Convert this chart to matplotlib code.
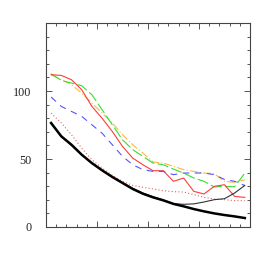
import matplotlib
matplotlib.use("Agg")
import matplotlib.pyplot as plt
from matplotlib.ticker import MultipleLocator, NullFormatter, FuncFormatter
import numpy as np

x = [0.5 + i for i in range(20)]

black_thick = [76.5, 66.7, 60.5, 53.2, 47.0, 41.7, 36.8, 32.4, 28.0, 24.5,
               21.8, 19.6, 17.0, 15.2, 13.2, 11.5, 10.0, 8.8, 7.8, 6.6]
black_thin = [76.0, 66.5, 60.0, 53.0, 47.0, 41.5, 36.8, 32.6, 28.5, 25.0,
              22.3, 20.0, 17.2, 16.7, 17.0, 18.4, 20.1, 20.8, 25.0, 30.6]
red_dotted = [83.8, 76.5, 67.9, 58.0, 49.5, 43.4, 38.0, 33.6, 30.6, 29.2,
              28.0, 26.7, 26.0, 25.7, 23.8, 21.8, 20.6, 20.1, 19.4, 19.4]
blue_dashed = [95.6, 88.7, 85.0, 81.4, 75.2, 69.0, 60.5, 52.0, 45.8, 42.2,
               40.9, 40.9, 38.5, 39.7, 39.7, 39.7, 38.5, 35.0, 33.6, 30.5]
red_solid = [112.0, 111.5, 108.3, 101.0, 88.7, 80.0, 70.3, 59.3, 50.7, 45.8,
             41.4, 41.4, 33.6, 36.0, 26.2, 24.3, 29.9, 31.1, 22.5, 21.8]
green_dashed = [112.7, 107.8, 105.9, 103.9, 97.3, 86.3, 75.2, 64.2, 56.9, 52.0,
                47.0, 45.8, 42.6, 39.7, 36.0, 33.6, 29.5, 29.9, 29.6, 39.7]
orange_dashdot = [112.0, 108.3, 104.7, 98.5, 91.2, 83.8, 76.5, 67.9, 60.5, 54.4,
                  47.8, 47.0, 44.6, 42.2, 40.9, 39.7, 39.2, 33.6, 32.8, 34.8]
y_labels = {0: "0", 50: "50", 100: "100"}

fig = plt.figure(figsize=(2.73, 2.73), dpi=100)
ax = fig.add_axes([0.1685, 0.1685, 0.747, 0.747])

lw = 0.8
ax.plot(x, orange_dashdot, color="#ffb640", lw=lw, dashes=(7, 2, 1, 2))
ax.plot(x, green_dashed, color="#33e033", lw=lw, dashes=(10, 3))
ax.plot(x, red_solid, color="#ff3b3b", lw=lw)
ax.plot(x, blue_dashed, color="#5555ff", lw=lw, dashes=(6, 5))
ax.plot(x, red_dotted, color="#dd6666", lw=lw, dashes=(1, 2))
ax.plot(x, black_thin, color="#333333", lw=0.8)
ax.plot(x, black_thick, color="black", lw=1.8)

ax.set_xlim(0, 20)
ax.set_ylim(0, 150)
ax.xaxis.set_major_locator(MultipleLocator(5))
ax.xaxis.set_minor_locator(MultipleLocator(1))
ax.yaxis.set_major_locator(MultipleLocator(50))
ax.yaxis.set_minor_locator(MultipleLocator(10))
ax.xaxis.set_major_formatter(NullFormatter())
ax.yaxis.set_major_formatter(FuncFormatter(lambda v, p: y_labels.get(int(round(v)), "")))
ax.tick_params(which="both", direction="in", top=True, right=True,
               color="#555555", width=0.7)
ax.tick_params(which="major", length=4)
ax.tick_params(which="minor", length=2.2)
ax.tick_params(axis="y", labelsize=8.7, pad=10.5, labelcolor="#222222")
for lab in ax.get_yticklabels():
    lab.set_family("Liberation Serif")
for s in ax.spines.values():
    s.set_color("#444444")
    s.set_linewidth(0.8)

fig.savefig("out.png", dpi=100)
